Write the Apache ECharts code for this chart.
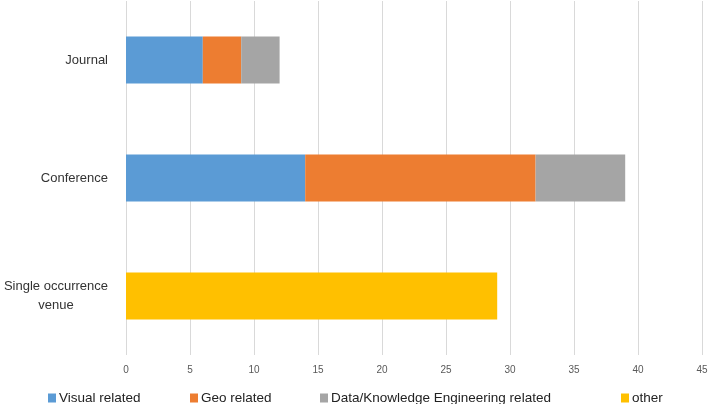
<!DOCTYPE html>
<html><head><meta charset="utf-8">
<script src="https://cdn.jsdelivr.net/npm/echarts@6/dist/echarts.min.js"></script>
<style>html,body{margin:0;padding:0;background:#fff}#c{width:708px;height:404px}</style>
</head><body><div id="c"></div>
<script>
const categories = ['Journal', 'Conference', 'Single occurrence venue'];
const visualRelated = [6, 14, 0];
const geoRelated = [3, 18, 0];
const dataKnowledge = [3, 7, 0];
const other = [0, 0, 29];
const seriesNames = ['Visual related', 'Geo related', 'Data/Knowledge Engineering related', 'other'];
const colors = ['#5B9BD5', '#ED7D31', '#A5A5A5', '#FFC000'];
const values = [visualRelated, geoRelated, dataKnowledge, other];
const legendLeft = [43, 185, 315, 616];

const chart = echarts.init(document.getElementById('c'));
const font = 'Liberation Sans, Arial, Helvetica, sans-serif';
chart.setOption({
  animation: false,
  textStyle: { fontFamily: font },
  grid: { left: 126, right: 6, top: 1, bottom: 49, containLabel: false, outerBoundsMode: 'none' },
  legend: seriesNames.map((n, i) => ({
    data: [n], left: legendLeft[i], top: 386, itemWidth: 8, itemHeight: 9, itemGap: 0,
    icon: 'rect', textStyle: { fontSize: 13.5, color: '#222', fontFamily: font, padding: [0, 0, 0, -2] }
  })),
  xAxis: {
    type: 'value', min: 0, max: 45, interval: 5,
    axisLine: { show: false }, axisTick: { show: false },
    splitLine: { show: true, lineStyle: { color: '#D9D9D9', width: 1 } },
    axisLabel: { fontSize: 10, color: '#595959', margin: 10 }
  },
  yAxis: {
    type: 'category', data: categories, inverse: true,
    axisLine: { show: false }, axisTick: { show: false },
    axisLabel: {
      fontSize: 13, color: '#333', margin: 18, align: 'right', lineHeight: 19,
      formatter: v => v === 'Single occurrence venue' ? '{a|Single occurrence}\n{a|venue}' : v,
      rich: { a: { align: 'center', fontSize: 13, color: '#333', lineHeight: 19 } }
    }
  },
  series: values.map((d, i) => ({
    name: seriesNames[i], type: 'bar', stack: 'total', data: d.map(v => v === 0 ? null : v),
    barWidth: '40%', itemStyle: { color: colors[i] }
  }))
});
</script></body></html>
